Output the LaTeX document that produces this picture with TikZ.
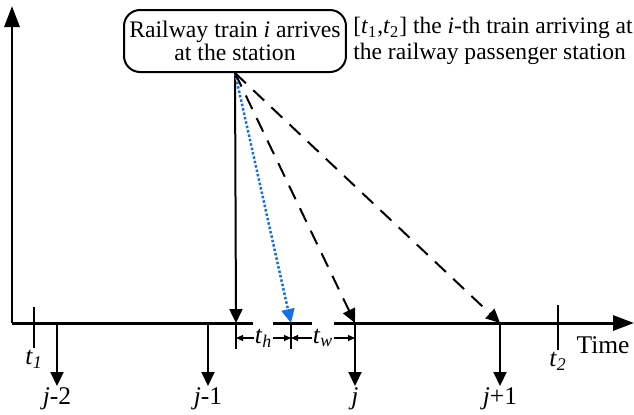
\documentclass[tikz,border=0pt]{standalone}
\usepackage{fontspec}
\setmainfont{Liberation Serif}
\usepackage{xcolor}
\usepackage{tikz}
\usetikzlibrary{arrows.meta, positioning}
\definecolor{holdblue}{RGB}{20,110,240}
\newcommand{\tsym}[1]{\textit{t}\textsubscript{\textit{#1}}}
\tikzset{
    axisline/.style={line width=0.06cm},
    axisarrow/.style={line width=0.06cm, -{Triangle[length=0.42cm,width=0.3cm]}},
    trainarrow/.style={line width=0.04cm, -{Triangle[length=0.28cm,width=0.26cm]}},
    tickline/.style={line width=0.04cm}
}
\begin{document}
\begin{tikzpicture}[x=0.02cm, y=-0.02cm, node distance=0.15cm,
  station/.style={rectangle, draw, line width=0.04cm, rounded corners=0.32cm, minimum width=4.44cm, minimum height=1.24cm, align=center, font=\fontsize{13.5}{13}\selectfont, inner sep=1pt},
  note/.style={align=left, font=\fontsize{13.4}{15}\selectfont, inner sep=0pt},
  lbl/.style={font=\fontsize{14.5}{15}\selectfont, inner sep=1pt},
  dashedarr/.style={trainarrow, dash pattern=on 0.3cm off 0.2cm},
  holdarr/.style={trainarrow, holdblue, line width=0.05cm, dash pattern=on 0.05cm off 0.04cm},
  dimarr/.style={line width=0.6pt, {Triangle[length=1.4mm,width=1.2mm]}-{Triangle[length=1.4mm,width=1.2mm]}},
  dimtick/.style={line width=0.6pt}]
  \useasboundingbox (0,0) rectangle (634,414);

  % axes
  \coordinate (O) at (12,323);
  \coordinate (ytop) at (12,6);
  \coordinate (xend) at (634,323);
  \coordinate (g1a) at (253,323);
  \coordinate (g1b) at (273,323);
  \coordinate (g2a) at (312,323);
  \coordinate (g2b) at (334,323);
  \draw[axisarrow] (O) -- (ytop);
  \draw[axisline] (O) -- (g1a);
  \draw[axisline] (g1b) -- (g2a);
  \draw[axisarrow] (g2b) -- (xend);
  \node[lbl] (time) at (603,345) {Time};

  % train i and its note
  \node[station] (train) at (235,41) {Railway train \textit{i} arrives\\at the station};
  \node[note, right=0.12cm of train] (info) {[\textit{t}\textsubscript{1},\textit{t}\textsubscript{2}] the \textit{i}-th train arriving at\\the railway passenger station};

  % interval ends
  \coordinate (t1top) at (34,307);
  \coordinate (t1bot) at (34,348);
  \coordinate (t2top) at (558,305);
  \coordinate (t2bot) at (558,350);
  \draw[tickline] (t1top) -- (t1bot);
  \draw[tickline] (t2top) -- (t2bot);
  \node[lbl, below=0pt of t1bot] (t1) {\tsym{1}};
  \node[lbl, below=0pt of t2bot] (t2) {\tsym{2}};

  % departing trains
  \foreach \x/\n/\txt in {57/a/{\textit{j}-2}, 208/b/{\textit{j}-1}, 355/c/{\textit{j}}, 500/d/{\textit{j}+1}} {
    \coordinate (dep\n) at (\x,323);
    \node[lbl, anchor=north] (lab\n) at (\x,386) {\txt};
    \draw[trainarrow] (dep\n) -- (lab\n.north);
  }

  % arrival and transfers
  \coordinate (arr) at (236,323);
  \coordinate (hold) at (291,323);
  \draw[trainarrow] (train.south) -- (arr);
  \draw[holdarr] (train.south) -- (hold);
  \draw[dashedarr] (train.south) -- (depc);
  \draw[dashedarr] (train.south) -- (depd);

  % headway and waiting times
  \coordinate (h1) at (236,349);
  \coordinate (h2) at (291,349);
  \draw[dimtick] (arr) -- (h1);
  \draw[dimtick] (hold) -- (h2);
  \coordinate (d1) at (236,338);
  \coordinate (d2) at (291,338);
  \coordinate (d3) at (355,338);
  \draw[dimarr] (d1) -- node[lbl, fill=white, inner sep=0.5pt] (th) {\tsym{h}} (d2);
  \draw[dimarr] (d2) -- node[lbl, fill=white, inner sep=0.5pt] (tw) {\tsym{w}} (d3);
\end{tikzpicture}
\end{document}
